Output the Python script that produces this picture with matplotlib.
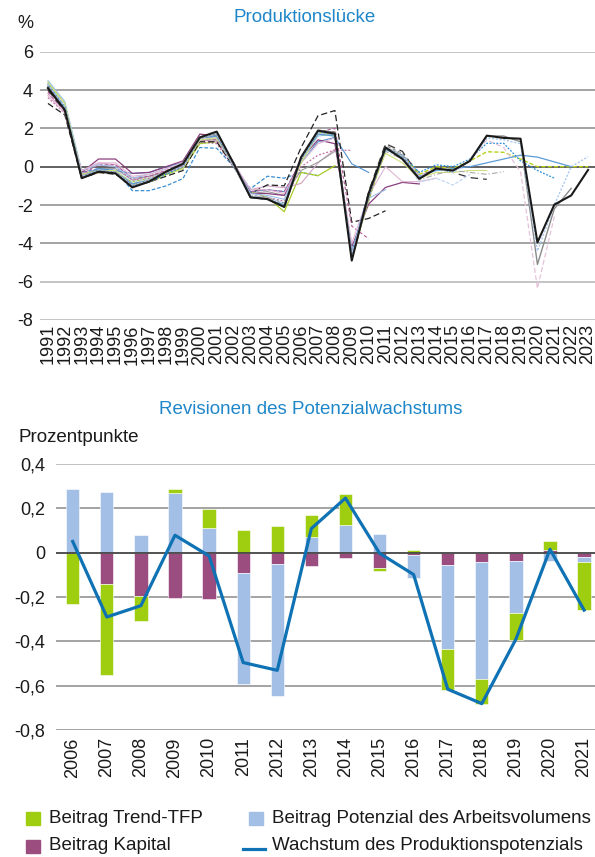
import matplotlib.pyplot as plt
from matplotlib.patches import Rectangle
from matplotlib.lines import Line2D
import numpy as np

plt.rcParams['font.family'] = ['Liberation Sans', 'DejaVu Sans']
plt.rcParams['axes.unicode_minus'] = False

# ---- Produktionslücke: Schätzungen verschiedener Jahrgänge (ab 1991) ----
years = list(range(1991, 2024))

gap_a = [4.2, 3.1, -0.3, -0.1, -0.2, -1.25, -1.25, -1.0, -0.62, 1.0, 0.96, 0.0, -1.15, -0.5, -0.6, -0.3, -0.47]
gap_b = [4.4, 3.3, -0.4, -0.2, -0.3, -0.8, -0.6, -0.4, -0.1, 1.2, 1.3, 0.1, -1.3, -1.6, -2.35, -0.3, -0.47, 0.05]
gap_c = [3.8, 2.9, -0.2, 0.2, 0.1, -0.6, -0.5, -0.2, 0.1, 1.4, 1.3, 0.1, -1.2, -1.0, -1.1, -0.87, 0.2, 0.9]
gap_d = [4.0, 3.0, -0.4, -0.1, -0.1, -0.7, -0.5, -0.3, 0.0, 1.4, 1.4, 0.2, -1.4, -1.3, -1.5, -0.2, 0.23, 0.8]
gap_e = [3.6, 2.8, -0.3, 0.1, 0.0, -0.7, -0.6, -0.3, 0.0, 1.3, 1.2, 0.0, -1.5, -1.6, -1.8, 0.0, 0.6, 0.87, 0.85]
gap_f = [4.1, 3.1, -0.5, -0.1, -0.2, -0.35, -0.3, 0.0, 0.2, 1.5, 1.6, 0.2, -1.3, -1.2, -1.3, 0.2, 1.3, 1.53, 0.15, -0.3]
gap_g = [3.3, 2.7, -0.6, -0.3, -0.4, -0.9, -0.8, -0.5, -0.2, 1.3, 1.3, 0.0, -1.4, -0.95, -1.0, 1.0, 2.66, 2.93, -2.9, -2.7, -2.3]
gap_h = [3.9, 2.9, -0.4, 0.1, 0.1, -0.6, -0.5, -0.2, 0.1, 1.4, 1.4, 0.1, -1.3, -1.2, -1.3, 0.3, 1.8, 2.0, -3.1, -3.76]
gap_i = [4.1, 3.0, -0.3, 0.4, 0.4, -0.35, -0.3, 0.0, 0.3, 1.7, 1.6, 0.2, -1.4, -1.4, -1.5, 0.4, 1.4, 1.2, -4.2, -1.95, -1.08, -0.82, -0.9]
gap_j = [4.5, 3.4, -0.2, 0.1, 0.0, -0.6, -0.4, -0.1, 0.2, 1.5, 1.5, 0.2, -1.4, -1.5, -1.7, 0.3, 1.6, 1.7, -4.4, -1.65, -1.2]
gap_k = [3.7, 2.8, -0.2, 0.2, 0.2, -0.5, -0.4, -0.1, 0.2, 1.5, 1.5, 0.2, -1.2, -1.2, -1.4, 0.2, 1.2, 1.5, -4.0, -1.5, 0.0, -0.78, -0.78, -0.6]
gap_l = [4.0, 3.0, -0.5, -0.2, -0.2, -0.9, -0.7, -0.3, 0.0, 1.5, 1.6, 0.1, -1.5, -1.6, -1.9, 0.3, 1.7, 1.6, -4.6, -1.8, 1.1, 0.7, -0.3]
gap_m = [4.0, 2.9, -0.6, -0.3, -0.3, -1.0, -0.8, -0.4, 0.0, 1.5, 1.7, 0.1, -1.6, -1.7, -2.1, 0.4, 1.9, 1.8, -4.7, -1.3, 1.2, 0.8, -0.5, -0.1, -0.3, -0.57, -0.66]
gap_n = [4.3, 3.2, -0.4, -0.2, -0.2, -0.8, -0.6, -0.3, 0.0, 1.4, 1.5, 0.0, -1.5, -1.6, -1.9, 0.3, 1.7, 1.6, -4.8, -1.7, 0.9, 0.5, -0.8, -0.6, -0.96, -0.4]
gap_o = [4.4, 3.3, -0.4, -0.2, -0.2, -0.9, -0.7, -0.4, -0.1, 1.4, 1.5, 0.1, -1.6, -1.7, -2.0, 0.2, 1.7, 1.6, -4.6, -1.5, 0.7, 0.2, -0.6, -0.3, -0.3, -0.2, -0.2]
gap_p = [4.2, 3.1, -0.5, -0.2, -0.3, -0.9, -0.7, -0.3, 0.0, 1.5, 1.6, 0.1, -1.6, -1.6, -2.0, 0.4, 1.8, 1.7, -4.6, -1.6, 0.8, 0.4, -0.7, -0.4, -0.2, -0.3, -0.4, -0.26]
gap_q = [4.3, 3.1, -0.5, -0.3, -0.3, -1.0, -0.8, -0.4, 0.0, 1.5, 1.7, 0.1, -1.6, -1.7, -2.1, 0.4, 1.8, 1.7, -4.8, -1.7, 0.9, 0.6, -0.4, 0.0, -0.1, 0.3, 0.78, 0.75, 0.4, 0.0, 0.0, 0.0, 0.0]
gap_r = [4.2, 3.1, -0.5, -0.2, -0.3, -1.0, -0.8, -0.4, 0.0, 1.5, 1.7, 0.1, -1.6, -1.7, -2.1, 0.4, 1.8, 1.7, -4.7, -1.6, 1.0, 0.6, -0.3, 0.1, 0.0, 0.4, 1.22, 1.22, 0.3, -0.2, -0.6]
gap_s = [4.3, 3.1, -0.5, -0.2, -0.3, -0.9, -0.7, -0.3, 0.0, 1.5, 1.6, 0.1, -1.6, -1.7, -2.0, 0.4, 1.7, 1.6, -4.5, -1.4, 0.9, 0.5, -0.5, -0.2, -0.1, 0.0, 0.2, 0.4, 0.6, 0.5, 0.25, 0.0]
gap_t = [4.1, 3.0, -0.5, -0.2, -0.3, -1.0, -0.7, -0.3, 0.0, 1.5, 1.7, 0.1, -1.6, -1.7, -2.1, 0.5, 1.9, 1.8, -4.6, -1.5, 1.0, 0.6, -0.5, -0.1, -0.2, 0.3, 1.4, 1.0, -0.26, -6.35, -2.6]
gap_u = [4.2, 3.0, -0.5, -0.2, -0.3, -1.0, -0.7, -0.3, 0.0, 1.5, 1.7, 0.1, -1.6, -1.7, -2.1, 0.4, 1.9, 1.8, -4.8, -1.6, 1.0, 0.6, -0.6, -0.1, -0.2, 0.3, 1.6, 1.6, 1.3, -5.1, -2.2, -1.13]
gap_v = [4.3, 3.1, -0.5, -0.2, -0.3, -1.0, -0.7, -0.3, 0.0, 1.5, 1.7, 0.1, -1.6, -1.7, -2.1, 0.4, 1.8, 1.7, -4.7, -1.5, 1.0, 0.6, -0.6, -0.1, -0.3, 0.3, 1.5, 1.4, 1.2, -4.4, -2.0, 0.0, 0.52]
gap_latest = [4.1, 2.96, -0.6, -0.26, -0.35, -1.08, -0.78, -0.26, 0.15, 1.53, 1.83, 0.17, -1.6, -1.69, -2.1, 0.5, 1.88, 1.72, -4.9, -1.4, 1.0, 0.4, -0.63, -0.1, -0.2, 0.3, 1.62, 1.5, 1.46, -3.95, -1.98, -1.5, -0.17]

gap_ticks = [-8, -6, -4, -2, 0, 2, 4, 6]

# ---- Revisionen des Potenzialwachstums ----
rev_years = [str(y) for y in range(2006, 2022)]
rev_tfp = [-0.23, -0.411, -0.112, 0.018, 0.087, 0.10, 0.12, 0.098, 0.14, -0.012, 0.012, -0.185, -0.112, -0.123, 0.042, -0.218]
rev_arbeit = [0.287, 0.272, 0.078, 0.269, 0.11, -0.50, -0.594, 0.069, 0.125, 0.083, -0.104, -0.379, -0.529, -0.233, -0.04, -0.023]
rev_kapital = [0.0, -0.141, -0.195, -0.206, -0.21, -0.09, -0.051, -0.062, -0.023, -0.069, -0.009, -0.056, -0.042, -0.038, 0.011, -0.018]
rev_total = [0.05, -0.29, -0.239, 0.078, -0.015, -0.495, -0.53, 0.108, 0.245, -0.003, -0.099, -0.615, -0.68, -0.39, 0.015, -0.259]
rev_ticks = [-0.8, -0.6, -0.4, -0.2, 0, 0.2, 0.4]

BLUE_TITLE = '#1f87c9'
C_TFP = '#9fcd0f'
C_ARB = '#a3bfe6'
C_KAP = '#9b4d80'
C_LINE = '#0e72b4'
TXT = '#1a1a1a'

W, H = 595, 857
fig = plt.figure(figsize=(W / 100, H / 100), dpi=100)


def fx(px):
    return px / W


def fy(py):
    return 1 - py / H


# ---------------- top chart ----------------
ax1 = fig.add_axes([fx(40), fy(320), fx(555), (320 - 51.7) / H])
for t in gap_ticks:
    c = '#555555' if t == 0 else ('#b4b4b4' if t in (6, -6, -8) else '#8a8a8a')
    ax1.axhline(t, color=c, lw=1.3 if t == 0 else 1.1, zorder=0)

vintage_styles = [
    (gap_a, '#3b8fd3', (0, (3, 1.5)), 0.9),
    (gap_b, '#a8cc2a', '-', 0.9),
    (gap_c, '#d3a2c6', '-', 0.8),
    (gap_d, '#9d9d9d', '-', 0.8),
    (gap_e, '#c26ea9', (0, (1.5, 1.5)), 0.9),
    (gap_f, '#4f92d2', '-', 0.8),
    (gap_g, '#222222', (0, (5, 2.5)), 0.9),
    (gap_h, '#b35a98', (0, (3, 2)), 0.8),
    (gap_i, '#8a3f7c', '-', 0.9),
    (gap_j, '#9cc0e8', '-', 0.8),
    (gap_k, '#dfb6d3', '-', 0.8),
    (gap_l, '#8c8c8c', (0, (3, 2)), 0.8),
    (gap_m, '#333333', (0, (6, 4)), 0.9),
    (gap_n, '#bcd2f0', (0, (3, 1.5)), 0.8),
    (gap_o, '#cfe07c', '-', 0.8),
    (gap_p, '#a8a8a8', (0, (5, 2, 1, 2)), 0.8),
    (gap_q, '#b7d21a', (0, (3, 1.5)), 1.0),
    (gap_r, '#2b8fd9', (0, (1.5, 1.2)), 0.9),
    (gap_s, '#5c9bd6', '-', 0.9),
    (gap_t, '#e6c2da', (0, (4, 2)), 0.9),
    (gap_u, '#8a8a8a', '-', 1.0),
    (gap_v, '#a7c9f0', (0, (1.5, 1.2)), 1.0),
]
for vals, col, ls, lw in vintage_styles:
    ax1.plot(years[:len(vals)], vals, color=col, ls=ls, lw=lw, zorder=2)
ax1.plot(years, gap_latest, color='#1a1a1a', lw=1.5, zorder=3)

ax1.set_xlim(1990.53, 2023.41)
ax1.set_ylim(-8, 6)
ax1.set_yticks(gap_ticks)
ax1.set_yticklabels([str(t) for t in gap_ticks])
ax1.set_xticks(years)
ax1.set_xticklabels([str(y) for y in years], rotation=90)
ax1.tick_params(length=0, labelsize=13, colors=TXT)
ax1.tick_params(axis='y', pad=5)
ax1.tick_params(axis='x', pad=3)
for s in ax1.spines.values():
    s.set_visible(False)

fig.text(fx(305), fy(17), 'Produktionslücke', color=BLUE_TITLE, fontsize=13.5,
         ha='center', va='center')
fig.text(fx(17), fy(23), '%', fontsize=13, ha='left', va='center', color=TXT)

# ---------------- bottom chart ----------------
ax2 = fig.add_axes([fx(56), fy(730.3), fx(539), (730.3 - 463.7) / H])
for t in rev_ticks:
    if t == 0:
        ax2.axhline(0, color='#444444', lw=1.3, zorder=3)
    else:
        ax2.axhline(t, color='#b0b0b0' if t == 0.4 else '#8a8a8a', lw=1.1, zorder=0)

x = np.arange(len(rev_years))
bw = 0.39
pos_bottom = np.zeros(len(x))
neg_bottom = np.zeros(len(x))
for vals, col in [(rev_kapital, C_KAP), (rev_arbeit, C_ARB), (rev_tfp, C_TFP)]:
    v = np.array(vals)
    bottoms = np.where(v >= 0, pos_bottom, neg_bottom)
    ax2.bar(x, v, bw, bottom=bottoms, color=col, edgecolor='white', linewidth=0.4, zorder=2)
    pos_bottom = pos_bottom + np.where(v >= 0, v, 0)
    neg_bottom = neg_bottom + np.where(v < 0, v, 0)
ax2.plot(x, rev_total, color=C_LINE, lw=2.3, zorder=4)

ax2.set_xlim(-0.49, 15.32)
ax2.set_ylim(-0.8, 0.4)
ax2.set_yticks(rev_ticks)
ax2.set_yticklabels([('%g' % t).replace('.', ',') for t in rev_ticks])
ax2.set_xticks(x)
ax2.set_xticklabels(rev_years, rotation=90)
ax2.tick_params(length=0, labelsize=13, colors=TXT)
ax2.tick_params(axis='y', pad=8)
ax2.tick_params(axis='x', pad=5)
for s in ax2.spines.values():
    s.set_visible(False)

fig.text(fx(311), fy(410), 'Revisionen des Potenzialwachstums', color=BLUE_TITLE,
         fontsize=13.5, ha='center', va='center')
fig.text(fx(18), fy(438), 'Prozentpunkte', fontsize=13.5, ha='left', va='center',
         color=TXT)

# ---------------- legend ----------------
legend_items = [
    ('patch', C_TFP, 'Beitrag Trend-TFP', 26, 818.5),
    ('patch', C_KAP, 'Beitrag Kapital', 26, 846),
    ('patch', C_ARB, 'Beitrag Potenzial des Arbeitsvolumens', 249, 818.5),
    ('line', C_LINE, 'Wachstum des Produktionspotenzials', 249, 846),
]
for kind, col, label, px, py in legend_items:
    if kind == 'patch':
        fig.add_artist(Rectangle((fx(px), fy(py + 6.5)), fx(14), 13 / H,
                                 transform=fig.transFigure, color=col))
    else:
        fig.add_artist(Line2D([fx(px - 6), fx(px + 16)], [fy(py + 3), fy(py + 3)],
                              transform=fig.transFigure, color=col, lw=2.3))
    fig.text(fx(px + 23), fy(py), label, fontsize=13.5, ha='left', va='center',
             color=TXT)

fig.savefig('out.png', dpi=100)
